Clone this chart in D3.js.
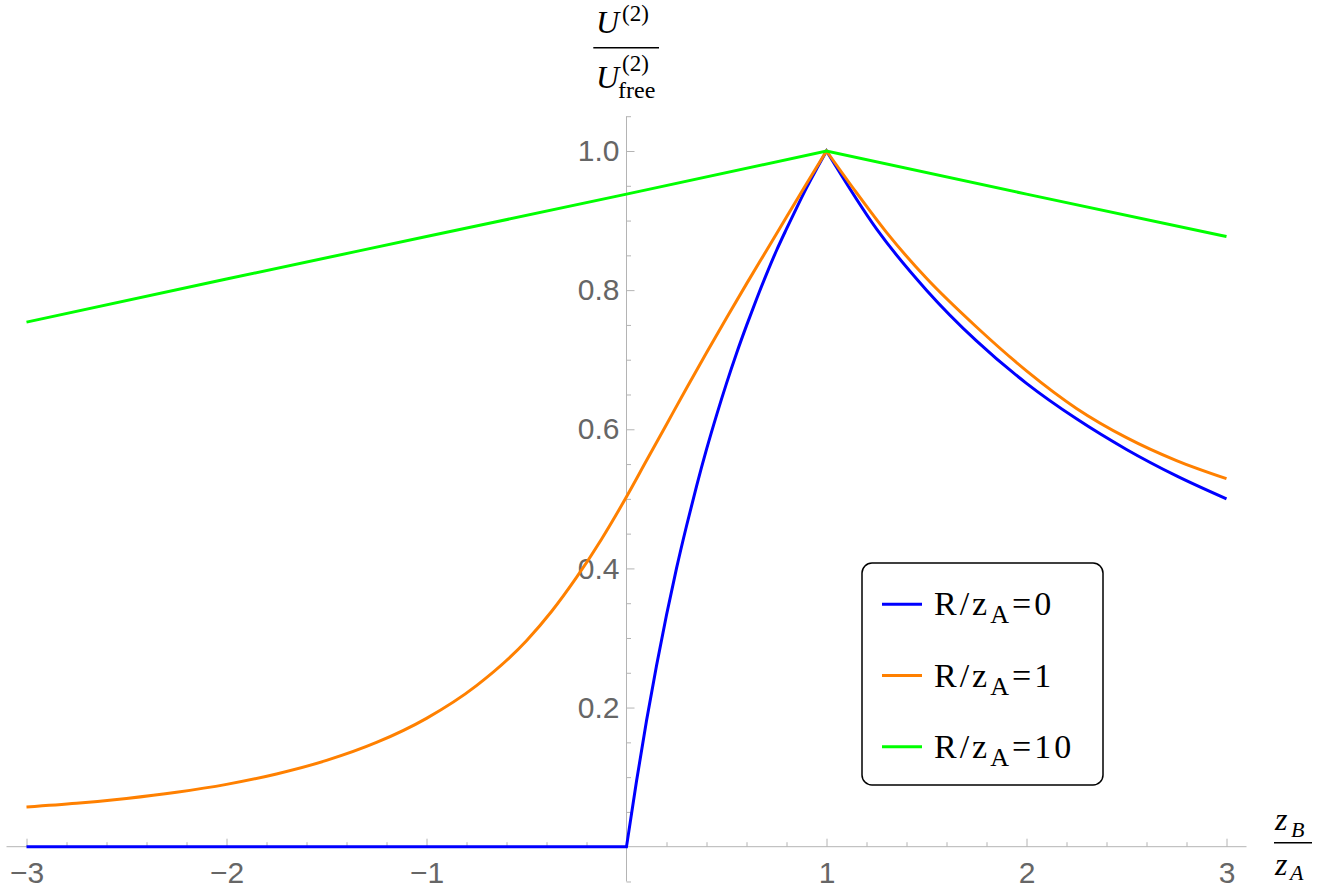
<!DOCTYPE html>
<html>
<head>
<meta charset="utf-8">
<script src="https://cdn.jsdelivr.net/npm/d3@7"></script>
<style>
  html, body { margin: 0; padding: 0; background: #ffffff; }
  svg { display: block; }
</style>
</head>
<body>
<div id="chart"></div>
<script>
// ---------------- data ----------------
const zBlue = [-3, 0, 0.05, 0.1, 0.15, 0.2, 0.25, 0.3, 0.35, 0.4, 0.45, 0.5, 0.55, 0.6, 0.65, 0.7, 0.75, 0.8, 0.85, 0.9, 0.95, 1,
               1.25, 1.5, 1.75, 2, 2.25, 2.5, 2.75, 3];
const uBlue = [0, 0, 0.094, 0.181, 0.26, 0.333, 0.4, 0.461, 0.518, 0.571, 0.62, 0.666, 0.709, 0.749, 0.787, 0.823, 0.857, 0.888, 0.918, 0.947, 0.974, 1,
               0.888, 0.8, 0.727, 0.666, 0.615, 0.571, 0.533, 0.5];
const kinksBlue = [0, 1];

const zOrange = [-3, -2.75, -2.5, -2.25, -2, -1.75, -1.5, -1.25, -1, -0.75, -0.5, -0.375, -0.25, -0.125, 0,
                 0.1, 0.2, 0.3, 0.4, 0.5, 0.6, 0.7, 0.8, 0.9, 1,
                 1.15, 1.3, 1.5, 1.75, 2, 2.25, 2.5, 2.75, 3];
const uOrange = [0.057, 0.0623, 0.0693, 0.0782, 0.0896, 0.1046, 0.124, 0.1498, 0.1845, 0.2315, 0.296, 0.338, 0.387, 0.442, 0.503,
                 0.555, 0.607, 0.659, 0.71, 0.76, 0.809, 0.857, 0.905, 0.953, 1,
                 0.94, 0.883, 0.817, 0.747, 0.684, 0.63, 0.588, 0.555, 0.529];
const kinksOrange = [1];

const zGreen = [-3, -2, -1, 0, 1, 2, 3];
const uGreen = [0.754, 0.816, 0.877, 0.938, 1, 0.938, 0.877];
const kinksGreen = [1];

const legendValues = ["0", "1", "10"];
const seriesColors = ["#0000ff", "#ff8000", "#00ff00"];

const xTickValues = [-3, -2, -1, 1, 2, 3];
const yTickValues = [0.2, 0.4, 0.6, 0.8, 1.0];

// ---------------- layout ----------------
const W = 1321, H = 892;
const x = d3.scaleLinear().domain([-3, 3]).range([26.5, 1226.5]);
const y = d3.scaleLinear().domain([0, 1]).range([846.7, 151]);
const xDomainFull = [-3.1, 3.1];
const yDomainFull = [-0.05, 1.05];

const svg = d3.select("#chart").append("svg")
  .attr("width", W).attr("height", H)
  .attr("viewBox", `0 0 ${W} ${H}`);
svg.append("rect").attr("width", W).attr("height", H).attr("fill", "#fff");

const axisColor = "#b4b4b4";
const labelColor = "#666666";
const tickFont = "'Liberation Sans', Arial, Helvetica, sans-serif";
const serif = "'Liberation Serif', 'Times New Roman', Times, serif";

// ---------------- axes ----------------
svg.append("line")
  .attr("x1", x(xDomainFull[0])).attr("x2", x(xDomainFull[1]))
  .attr("y1", y(0)).attr("y2", y(0))
  .attr("stroke", axisColor).attr("stroke-width", 1);
svg.append("line")
  .attr("x1", x(0)).attr("x2", x(0))
  .attr("y1", y(yDomainFull[0])).attr("y2", y(yDomainFull[1]))
  .attr("stroke", axisColor).attr("stroke-width", 1);

const xMinor = d3.range(-30, 31, 2).map(v => v / 10).filter(v => !xTickValues.includes(v) && v !== 0);
const yMinor = d3.range(-1, 22, 1).map(v => +(v * 0.05).toFixed(2)).filter(v => !yTickValues.includes(v) && v !== 0);

const gxMinor = svg.append("g").attr("transform", `translate(0,${y(0)})`)
  .call(d3.axisBottom(x).tickValues(xMinor).tickSizeInner(-4.5).tickSizeOuter(0).tickFormat(""));
const gyMinor = svg.append("g").attr("transform", `translate(${x(0)},0)`)
  .call(d3.axisLeft(y).tickValues(yMinor).tickSizeInner(-4.5).tickSizeOuter(0).tickFormat(""));

const gx = svg.append("g").attr("transform", `translate(0,${y(0)})`)
  .call(d3.axisBottom(x).tickValues(xTickValues).tickSizeInner(-8).tickSizeOuter(0).tickPadding(15)
    .tickFormat(d3.format("d")));
const gy = svg.append("g").attr("transform", `translate(${x(0)},0)`)
  .call(d3.axisLeft(y).tickValues(yTickValues).tickSizeInner(-8).tickSizeOuter(0).tickPadding(7)
    .tickFormat(d3.format(".1f")));

[gxMinor, gyMinor, gx, gy].forEach(g => {
  g.select(".domain").remove();
  g.selectAll(".tick line").attr("stroke", axisColor).attr("stroke-width", 1);
  g.selectAll(".tick text").attr("fill", labelColor)
    .style("font-family", tickFont).style("font-size", "30px");
});

// ---------------- curves ----------------
function buildPath(zs, us, kinks) {
  const pts = zs.map((z, i) => [z, us[i]]);
  const cuts = [zs[0], ...kinks, zs[zs.length - 1]];
  const line = d3.line().x(d => x(d[0])).y(d => y(d[1])).curve(d3.curveMonotoneX);
  let dstr = "";
  for (let k = 0; k < cuts.length - 1; k++) {
    const seg = pts.filter(p => p[0] >= cuts[k] && p[0] <= cuts[k + 1]);
    let s = line(seg);
    if (k > 0) s = "L" + s.slice(1);
    dstr += s;
  }
  return dstr;
}

const series = [
  { z: zBlue, u: uBlue, kinks: kinksBlue },
  { z: zOrange, u: uOrange, kinks: kinksOrange },
  { z: zGreen, u: uGreen, kinks: kinksGreen }
];

svg.append("g").selectAll("path").data(series).join("path")
  .attr("d", d => buildPath(d.z, d.u, d.kinks))
  .attr("fill", "none")
  .attr("stroke", (d, i) => seriesColors[i])
  .attr("stroke-width", 3)
  .attr("stroke-linejoin", "miter")
  .attr("stroke-miterlimit", 3);

// ---------------- axis titles ----------------
const yt = svg.append("g").attr("fill", "#000").style("font-family", serif);
yt.append("text").attr("x", 596).attr("y", 33).style("font-size", "32px").style("font-style", "italic").text("U");
yt.append("text").attr("x", 622).attr("y", 21).style("font-size", "23px").text("(2)");
yt.append("line").attr("x1", 593.3).attr("x2", 659).attr("y1", 47.7).attr("y2", 47.7)
  .attr("stroke", "#000").attr("stroke-width", 1.5);
yt.append("text").attr("x", 596).attr("y", 88).style("font-size", "32px").style("font-style", "italic").text("U");
yt.append("text").attr("x", 622).attr("y", 71).style("font-size", "23px").text("(2)");
yt.append("text").attr("x", 618).attr("y", 97.5).style("font-size", "24px").text("free");

const xt = svg.append("g").attr("fill", "#000").style("font-family", serif).style("font-style", "italic");
xt.append("text").attr("x", 1275).attr("y", 830).style("font-size", "32px").text("z");
xt.append("text").attr("x", 1291).attr("y", 836.7).style("font-size", "22px").text("B");
xt.append("line").attr("x1", 1274).attr("x2", 1312).attr("y1", 842.7).attr("y2", 842.7)
  .attr("stroke", "#000").attr("stroke-width", 1.5);
xt.append("text").attr("x", 1275).attr("y", 875).style("font-size", "32px").text("z");
xt.append("text").attr("x", 1290).attr("y", 880).style("font-size", "22px").text("A");

// ---------------- legend ----------------
const lg = svg.append("g");
lg.append("rect").attr("x", 862).attr("y", 563).attr("width", 241).attr("height", 222)
  .attr("rx", 10).attr("ry", 10)
  .attr("fill", "#fff").attr("stroke", "#000").attr("stroke-width", 1.5);
const rowY = d3.scaleLinear().domain([0, 2]).range([604.3, 746.7]);
const rows = lg.selectAll("g.row").data(legendValues).join("g").attr("class", "row");
rows.append("line")
  .attr("x1", 882).attr("x2", 922)
  .attr("y1", (d, i) => rowY(i)).attr("y2", (d, i) => rowY(i))
  .attr("stroke", (d, i) => seriesColors[i]).attr("stroke-width", 3);
const rt = rows.append("text")
  .attr("x", 934).attr("y", (d, i) => rowY(i) + 11)
  .style("font-family", serif).style("font-size", "34px").attr("fill", "#000")
  .style("letter-spacing", "3px");
rt.append("tspan").text("R/z");
rt.append("tspan").attr("dy", 8).style("font-size", "26px").text("A");
rt.append("tspan").attr("dy", -8).text(d => "=" + d);
</script>
</body>
</html>
